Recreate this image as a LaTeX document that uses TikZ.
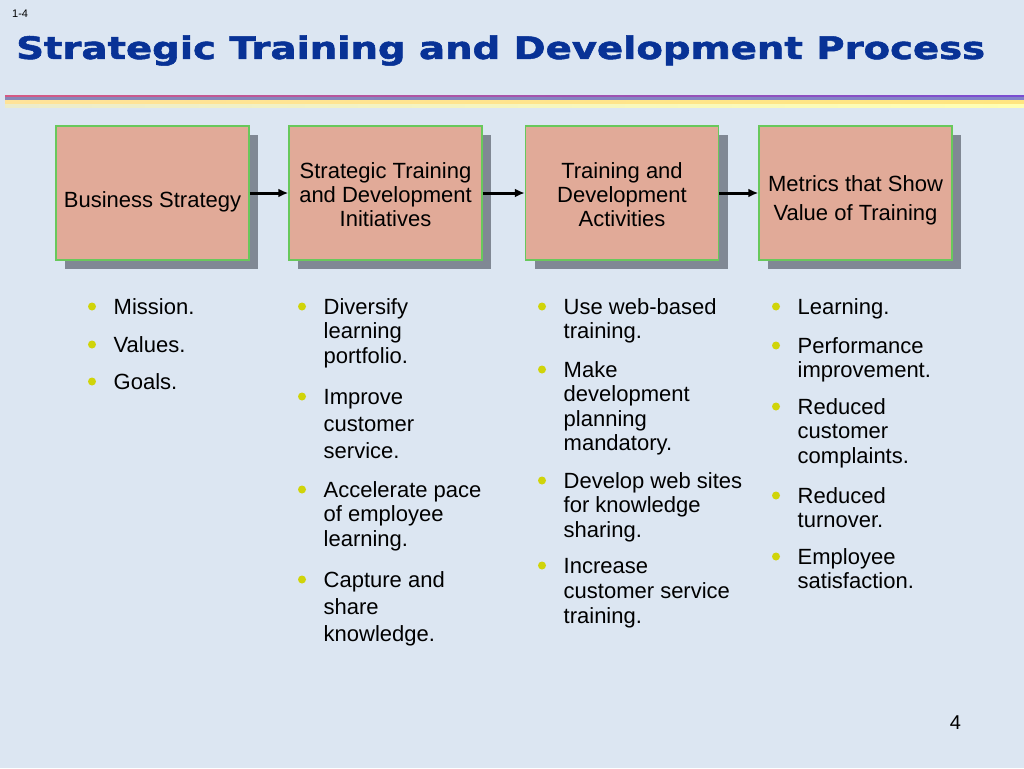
\documentclass[tikz,border=0pt]{standalone}
\usepackage{fontspec}
\setmainfont{Liberation Sans}
\newfontfamily\titleFont[BoldFont={DejaVu Sans Bold},BoldFeatures={FakeBold=1.6}]{DejaVu Sans}
\usetikzlibrary{arrows.meta}
\usetikzlibrary{shadows}
\definecolor{slideBack}{RGB}{220,230,242}
\definecolor{titleBlue}{RGB}{8,50,150}
\definecolor{boxFill}{RGB}{225,170,152}
\definecolor{boxGreen}{RGB}{104,200,92}
\definecolor{shadowGray}{RGB}{128,136,148}
\definecolor{dotYellow}{RGB}{208,212,10}
\newcommand{\stripeBand}[4]{%%
  %% One coloured band of the stripe under the title.
  \fill[left color=#3,right color=#4] (stripeStart|-0,#1) rectangle (stripeEnd|-0,#2);
}
\newcommand{\boxText}[3]{%%
  %% The text of a stage, a little below the middle of its box.
  \node[boxTextStyle] (#1Text) at ([yshift=-#2pt]#1.center) {#3};
}
\newcommand{\bulletItem}[5]{%%
  %% The bullet.
  \node[dotStyle] (#1Dot) at (#2,#3-7.5) {};
  %% The text beside it, its first baseline at the given height.
  \node[itemStyle,font=\fontsize{22}{#4}\selectfont] (#1) at (#2+21.5,#3-18) {\rule{0pt}{18pt}#5};
}

\begin{document}
\begin{tikzpicture}[%%
  x=1pt,y=-1pt,%%
  titleStyle/.style={anchor=base west,inner sep=0pt,text=titleBlue,font=\titleFont\bfseries\fontsize{31}{31}\selectfont,xscale=1.245},%%
  boxStyle/.style={draw=boxGreen,line width=1.5pt,fill=boxFill,minimum width=193pt,minimum height=134pt,inner sep=0pt,drop shadow={shadow xshift=9pt,shadow yshift=-9pt,fill=shadowGray,opacity=1}},%%
  boxTextStyle/.style={align=center,inner sep=0pt,font=\fontsize{22}{24}\selectfont},%%
  arrowStyle/.style={-{Latex[length=10pt,width=9pt]},line width=3pt,black},%%
  dotStyle/.style={circle,fill=dotYellow,inner sep=0pt,minimum size=8pt},%%
  itemStyle/.style={anchor=north west,align=left,inner sep=0pt,text=black}
]
%%
%% The slide.
\fill[slideBack] (0,0) rectangle (1024,768);
\useasboundingbox (0,0) rectangle (1024,768);
\node[anchor=base west,inner sep=0pt,font=\fontsize{11}{11}\selectfont] (slideNo) at (12,18) {1-4};
\node[titleStyle] (title) at (16,59) {Strategic Training and Development Process};
%% The stripe under the title.
\coordinate (stripeStart) at (5,0);
\coordinate (stripeEnd) at (1024,0);
\stripeBand{95.5}{97.5}{red!50!violet!65}{blue!50!violet!70}
\stripeBand{97.5}{100.5}{blue!25!gray!75}{blue!40!gray!70}
\stripeBand{100.5}{104.5}{yellow!45!orange!40}{yellow!60!orange!50}
\stripeBand{104.5}{107.5}{yellow!15!white!85!gray}{yellow!30!white}
%%
%% The four stages.
\node[boxStyle] (business) at (152.5,193) {};
\node[boxStyle] (initiatives) at (385.5,193) {};
\node[boxStyle] (activities) at (622,193) {};
\node[boxStyle] (metrics) at (855.5,193) {};
\boxText{business}{9}{Business Strategy}
\boxText{initiatives}{2}{Strategic Training\\and Development\\Initiatives}
\boxText{activities}{2}{Training and\\Development\\Activities}
\boxText{metrics}{7}{Metrics that Show\\[5pt]Value of Training}
\draw[arrowStyle] (business) -- (initiatives);
\draw[arrowStyle] (initiatives) -- (activities);
\draw[arrowStyle] (activities) -- (metrics);
%%
%% Business strategy.
\bulletItem{mission}{92}{314}{24.5}{Mission.}
\bulletItem{values}{92}{352}{24.5}{Values.}
\bulletItem{goals}{92}{389}{24.5}{Goals.}
%% Initiatives.
\bulletItem{diversify}{302}{314}{24.5}{Diversify\\learning\\portfolio.}
\bulletItem{improve}{302}{404}{27}{Improve\\customer\\service.}
\bulletItem{accelerate}{302}{497}{24.5}{Accelerate pace\\of employee\\learning.}
\bulletItem{capture}{302}{587}{27}{Capture and\\share\\knowledge.}
%% Activities.
\bulletItem{webTraining}{542}{314}{24.5}{Use web-based\\training.}
\bulletItem{planning}{542}{377}{24.5}{Make\\development\\planning\\mandatory.}
\bulletItem{webSites}{542}{488}{24.5}{Develop web sites\\for knowledge\\sharing.}
\bulletItem{service}{542}{573}{25}{Increase\\customer service\\training.}
%% Metrics.
\bulletItem{learning}{776}{314}{24.5}{Learning.}
\bulletItem{performance}{776}{353}{24.5}{Performance\\improvement.}
\bulletItem{complaints}{776}{414}{24.5}{Reduced\\customer\\complaints.}
\bulletItem{turnover}{776}{503}{24.5}{Reduced\\turnover.}
\bulletItem{satisfaction}{776}{564}{24.5}{Employee\\satisfaction.}
%%
\node[anchor=base,inner sep=0pt,font=\fontsize{20}{20}\selectfont] (pageNo) at (955.5,729) {4};
\end{tikzpicture}
\end{document}
